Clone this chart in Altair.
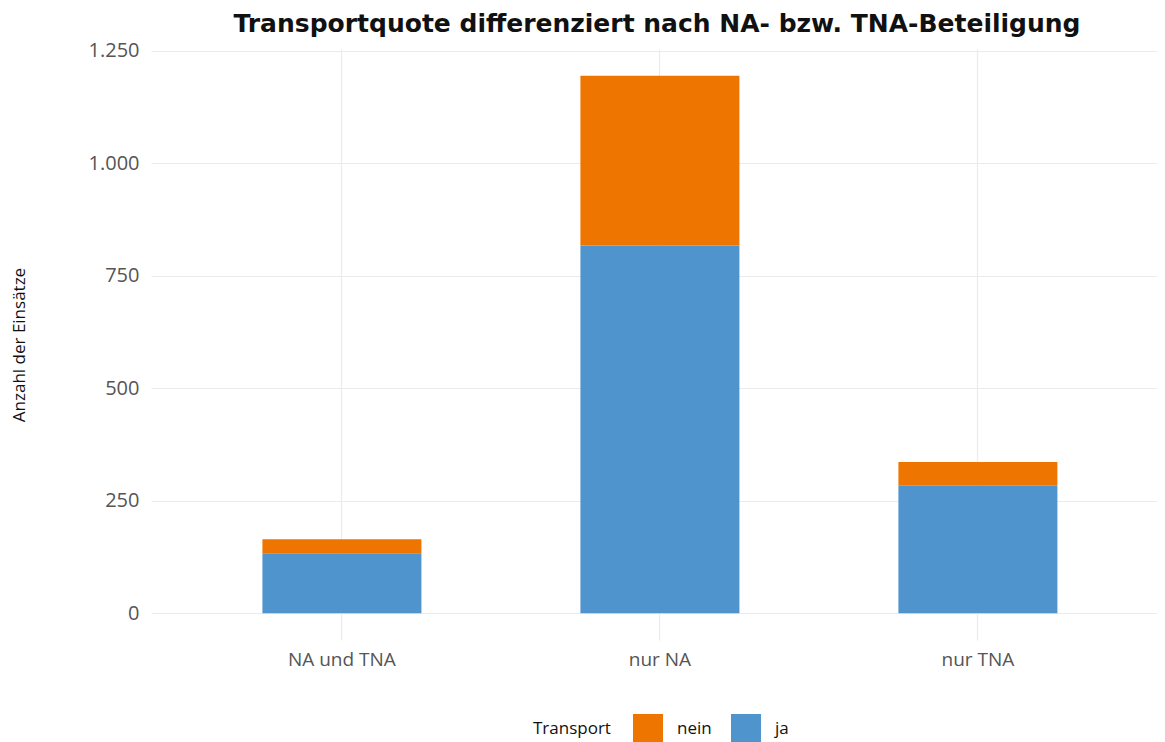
import altair as alt
import pandas as pd

categories = ["NA und TNA", "nur NA", "nur TNA"]
ja_values = [133, 817, 283]
nein_values = [31, 377, 53]
transport_levels = ["nein", "ja"]
y_ticks = [0, 250, 500, 750, 1000, 1250]

rows = []
for c, j, n in zip(categories, ja_values, nein_values):
    rows.append({"Kategorie": c, "Transport": "ja", "Anzahl": j, "ord": 0})
    rows.append({"Kategorie": c, "Transport": "nein", "Anzahl": n, "ord": 1})
df = pd.DataFrame(rows)

FONT = "Open Sans"

chart = alt.Chart(df).mark_bar().encode(
    x=alt.X("Kategorie:N", sort=categories,
            scale=alt.Scale(paddingInner=0.5, paddingOuter=0.3318, align=0.528),
            axis=alt.Axis(title=None, labelAngle=0, ticks=False, domain=False,
                          grid=True, bandPosition=0.5, tickExtra=False, labelPadding=10,
                          labelFontSize=19, labelColor="#555555", labelFont=FONT,
                          gridColor="#ebebeb", gridWidth=1.2)),
    y=alt.Y("Anzahl:Q", stack="zero",
            scale=alt.Scale(domain=[-59.7, 1253.7], nice=False, zero=False),
            axis=alt.Axis(title="Anzahl der Einsätze", values=y_ticks,
                          labelExpr="replace(format(datum.value, ','), ',', '.')",
                          ticks=False, domain=False, grid=True,
                          gridColor="#ebebeb", gridWidth=1.2,
                          labelFontSize=20, labelColor="#555555", labelFont=FONT,
                          labelPadding=12, titleFontSize=17, titleFontWeight="normal",
                          titleFont=FONT, titleColor="#111111", titlePadding=60)),
    color=alt.Color("Transport:N",
                    scale=alt.Scale(domain=transport_levels, range=["#EE7600", "#4F94CD"]),
                    legend=alt.Legend(orient="none", legendX=382, legendY=665,
                                      direction="horizontal", titleOrient="left",
                                      symbolType="square", symbolSize=900,
                                      symbolStrokeWidth=0, symbolOpacity=1,
                                      titleFontSize=17, titleFontWeight="normal",
                                      titleFont=FONT, titleColor="#111111",
                                      labelFontSize=17, labelFont=FONT, labelColor="#111111",
                                      columnPadding=19, titlePadding=22,
                                      labelOffset=14)),
    order=alt.Order("ord:Q", sort="ascending"),
).properties(
    width=1006,
    height=591,
    title=alt.TitleParams("Transportquote differenziert nach NA- bzw. TNA-Beteiligung",
                          fontSize=25, fontWeight="bold", font="DejaVu Sans", color="#111111",
                          anchor="middle", offset=4, dx=3),
    padding={"left": 143, "top": 41, "right": 0, "bottom": 102},
    autosize=alt.AutoSizeParams(type="none"),
    background="white",
).configure_view(stroke=None)

chart.save("out.html", embed_options={"renderer": "svg", "actions": False})
